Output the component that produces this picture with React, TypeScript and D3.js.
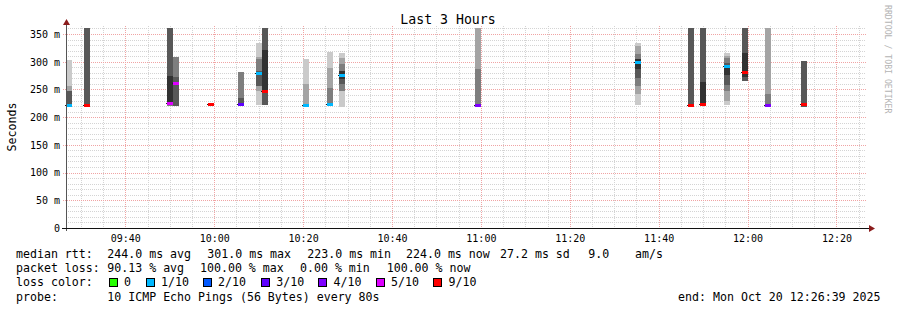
import React from "react";
import * as d3 from "d3";

const W = 897;
const H = 310;

// time window (3 hours) and sample step (seconds)
const START = "09:26:39";
const END = "12:26:39";
const STEP = 80;

// y axis
const Y_MAX = 360.8;
const yTickValues = [0, 50, 100, 150, 200, 250, 300, 350];
const yTickLabels = ["0", "50 m", "100 m", "150 m", "200 m", "250 m", "300 m", "350 m"];
const xTickLabels = ["09:40", "10:00", "10:20", "10:40", "11:00", "11:20", "11:40", "12:00", "12:20"];

// samples (start time of each 80 s step that has data)
const sampleTimes = [
  "09:26:40", "09:30:40", "09:49:20", "09:50:40", "09:58:40", "10:05:20",
  "10:09:20", "10:10:40", "10:20:00", "10:25:20", "10:28:00", "10:58:40",
  "11:34:40", "11:46:40", "11:49:20", "11:54:40", "11:58:40", "12:04:00", "12:12:00",
];
// median rtt (ms)
const medians = [222, 222, 226, 261, 223, 223, 279, 248, 222, 223.5, 276, 222, 299, 221, 223, 292, 281, 222, 223];
// lost pings out of 10
const lossCounts = [1, 9, 5, 5, 9, 3, 1, 9, 1, 1, 1, 4, 1, 9, 9, 1, 9, 4, 9];
// smoke bands: [low ms, high ms, density level 0 (outer) .. 4 (inner)]
const smokeBands: number[][][] = [
  [[219, 248, 3], [248, 256, 1], [256, 303, 0]],
  [[220, 361, 3]],
  [[220, 226, 2], [226, 275, 4], [275, 361, 3]],
  [[220, 272, 3], [272, 308, 2]],
  [],
  [[220, 234, 3], [234, 281, 2]],
  [[222, 248, 0], [248, 256, 1], [256, 284, 3], [284, 305, 2], [305, 309, 1], [309, 333, 0]],
  [[221, 248, 3], [248, 322, 4], [322, 361, 3]],
  [[220, 259, 1], [259, 304, 0]],
  [[221, 252, 2], [252, 288, 1], [288, 317, 0]],
  [[219, 247, 0], [247, 259, 2], [259, 269, 3], [269, 284, 4], [284, 295, 2], [295, 306, 1], [306, 315, 0]],
  [[219, 287, 2], [287, 361, 1]],
  [[221, 241, 0], [241, 256, 1], [256, 270, 2], [270, 286, 3], [286, 304, 4], [304, 314, 2], [314, 328, 1], [328, 333, 0]],
  [[219, 361, 3]],
  [[220, 263, 4], [263, 361, 3]],
  [[222, 230, 0], [230, 247, 1], [247, 258, 2], [258, 276, 3], [276, 294, 4], [294, 297, 3], [297, 306, 2], [306, 311, 1], [311, 315, 0]],
  [[266, 272, 3], [272, 315, 4], [315, 361, 3]],
  [[220, 241, 2], [241, 361, 1]],
  [[219, 301, 3]],
];

// legend
const lossLevels = [0, 1, 2, 3, 4, 5, 9];
const lossLabels = ["0", "1/10", "2/10", "3/10", "4/10", "5/10", "9/10"];
const lossColors = ["#26ff00", "#00b8ff", "#0059ff", "#5e00ff", "#7e00ff", "#dd00ff", "#ff0000"];
const rttStats = ["244.0 ms avg", "301.0 ms max", "223.0 ms min", "224.0 ms now", "27.2 ms sd", "9.0", "am/s"];
const lossStats = ["90.13 % avg", "100.00 % max", "0.00 % min", "100.00 % now"];
const probeText = "10 ICMP Echo Pings (56 Bytes) every 80s";
const endText = "end: Mon Oct 20 12:26:39 2025";

const greys = [202, 164, 126, 88, 50].map((v) => d3.rgb(v, v, v).formatHex());

const FONT = "'DejaVu Sans Mono', monospace";

export default function App() {
  const parse = d3.timeParse("%H:%M:%S");
  const t0 = parse(START)!;
  const t1 = parse(END)!;
  const x = d3.scaleTime().domain([t0, t1]).range([66, 866]);
  const y = d3.scaleLinear().domain([0, Y_MAX]).range([228, 28]);
  const L = 66, R = 866, T = 28, B = 228;

  const minorV = d3.timeMinute.every(5)!.range(t0, t1).filter((d) => d.getMinutes() % 20 !== 0);
  const majorV = d3.timeMinute.every(20)!.range(t0, t1);
  const minorH = d3.range(10, Y_MAX, 10).filter((v) => v % 50 !== 0);
  const majorH = yTickValues.filter((v) => v > 0);
  const fmt = d3.timeFormat("%H:%M");

  const lossColor = (n: number) => lossColors[lossLevels.indexOf(n)];

  const rttX = [107.3, 207.3, 307.3, 406, 500, 588.3, 635];
  const lossX = [107.3, 200, 300, 386.7];
  const boxX = [108.7, 145.7, 202.7, 261, 318.3, 375.7, 433.3];

  return (
    <svg width={W} height={H} style={{ position: "absolute", left: 0, top: 0, background: "#fff" }} fontFamily={FONT}>
      <rect x={0} y={0} width={W} height={H} fill="#fff" />
      {/* grid */}
      <g shapeRendering="crispEdges" strokeDasharray="1,1">
        {minorH.map((v) => {
          const yy = Math.round(y(v)) + 0.5;
          return <line key={"mh" + v} x1={L} x2={R} y1={yy} y2={yy} stroke="#d4d4d4" />;
        })}
        {minorV.map((d, i) => {
          const xx = Math.round(x(d)) + 0.5;
          return <line key={"mv" + i} x1={xx} x2={xx} y1={T - 2} y2={B} stroke="#d4d4d4" />;
        })}
        {majorH.map((v) => {
          const yy = Math.round(y(v)) + 0.5;
          return <line key={"Mh" + v} x1={L - 3} x2={R} y1={yy} y2={yy} stroke="#f0a4a4" />;
        })}
        {majorV.map((d, i) => {
          const xx = Math.round(x(d)) + 0.5;
          return <line key={"Mv" + i} x1={xx} x2={xx} y1={T - 2} y2={B + 2} stroke="#f0a4a4" />;
        })}
      </g>
      {/* smoke */}
      <g shapeRendering="crispEdges">
        {sampleTimes.map((s, i) => {
          const a = parse(s)!;
          const b = new Date(+a + STEP * 1000);
          const x0 = Math.round(x(a));
          const x1 = Math.round(x(b));
          return (
            <g key={"s" + i}>
              {smokeBands[i].map(([lo, hi, lvl], j) => {
                const yt = Math.round(y(Math.min(hi, Y_MAX)));
                const yb = Math.round(y(lo));
                return <rect key={j} x={x0} width={x1 - x0} y={yt} height={yb - yt} fill={greys[lvl]} />;
              })}
            </g>
          );
        })}
        {sampleTimes.map((s, i) => {
          const a = parse(s)!;
          const b = new Date(+a + STEP * 1000);
          const x0 = Math.round(x(a));
          const x1 = Math.round(x(b));
          const ym = Math.round(y(medians[i]));
          return (
            <g key={"m" + i}>
              <rect x={x0 - 1} y={ym} width={2} height={1} fill="#202020" />
              <rect x={x0} y={ym - 1} width={x1 - x0} height={3} fill={lossColor(lossCounts[i])} />
            </g>
          );
        })}
      </g>
      {/* axes */}
      <g shapeRendering="crispEdges">
        <line x1={L + 0.5} x2={L + 0.5} y1={B + 3} y2={T - 5} stroke="#555" />
        <line x1={L - 4} x2={R + 4} y1={B + 0.5} y2={B + 0.5} stroke="#111" />
      </g>
      <path d={`M${L - 3},${T - 3} L${L + 0.5},${T - 9} L${L + 4},${T - 3} Z`} fill="#8b1c1c" />
      <path d={`M${R + 3},${B - 3} L${R + 9},${B + 0.5} L${R + 3},${B + 4} Z`} fill="#8b1c1c" />
      {/* y tick labels */}
      {yTickValues.map((v, i) => (
        <text key={"yl" + v} x={60} y={y(v) + 3.8} textAnchor="end" fontSize={10} fill="#000">
          {yTickLabels[i]}
        </text>
      ))}
      {/* x tick labels */}
      {majorV.map((d, i) => (
        <text key={"xl" + i} x={x(d) + 0.5} y={241.5} textAnchor="middle" fontSize={10} fill="#000">
          {xTickLabels[i] ?? fmt(d)}
        </text>
      ))}
      {/* title */}
      <text x={448} y={24} textAnchor="middle" fontSize={13.2} fill="#000">Last 3 Hours</text>
      <text transform="translate(15.5,127) rotate(-90)" textAnchor="middle" fontSize={11.6} fill="#000">Seconds</text>
      <text transform="translate(884.5,5) rotate(90)" fontSize={8.2} fill="#b4b4b4">RRDTOOL / TOBI OETIKER</text>
      {/* legend */}
      <g fontSize={11.6} fill="#000" style={{ whiteSpace: "pre" }}>
        <text x={16} y={258}>median rtt:</text>
        {rttStats.map((s, i) => (
          <text key={"r" + i} x={rttX[i]} y={258}>{s}</text>
        ))}
        <text x={16} y={272}>packet loss:</text>
        {lossStats.map((s, i) => (
          <text key={"l" + i} x={lossX[i]} y={272}>{s}</text>
        ))}
        <text x={16} y={286}>loss color:</text>
        {lossLabels.map((s, i) => (
          <g key={"c" + i}>
            <rect x={Math.round(boxX[i]) + 0.5} y={278.5} width={8} height={8} fill={lossColors[i]} stroke="#000" shapeRendering="crispEdges" />
            <text x={boxX[i] + 15.3} y={286}>{s}</text>
          </g>
        ))}
        <text x={16} y={300.5}>probe:</text>
        <text x={107.3} y={300.5}>{probeText}</text>
        <text x={880.5} y={300.5} textAnchor="end">{endText}</text>
      </g>
    </svg>
  );
}
